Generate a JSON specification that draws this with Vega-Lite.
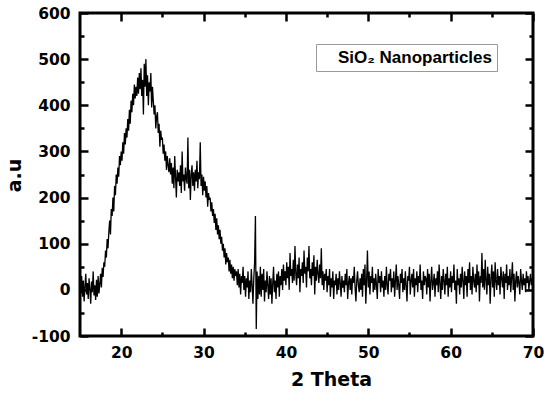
{
"$schema": "https://vega.github.io/schema/vega-lite/v6.json",
"width": 453, "height": 323,
"autosize": {"type": "none"},
"padding": {"left": 80, "top": 13, "right": 17, "bottom": 58},
"config": {
 "view": {"stroke": "black", "strokeWidth": 3},
 "axis": {"domain": false, "tickColor": "black", "tickWidth": 2.5, "grid": false, "ticks": true,
  "labelFont": "DejaVu Sans", "labelFontWeight": "bold", "labelFontSize": 15.5, "labelColor": "black",
  "titleFont": "DejaVu Sans", "titleFontWeight": "bold", "titleFontSize": 19, "titleColor": "black"}
},
"data": {"values": [
{"x":15.0,"y":12},{"x":15.1,"y":-8},{"x":15.2,"y":30},{"x":15.3,"y":-15},{"x":15.4,"y":20},{"x":15.5,"y":-25},{"x":15.6,"y":8},{"x":15.7,"y":35},{"x":15.8,"y":-10},{"x":15.9,"y":15},
{"x":16.0,"y":-20},{"x":16.1,"y":25},{"x":16.2,"y":2},{"x":16.3,"y":-30},{"x":16.4,"y":18},{"x":16.5,"y":-5},{"x":16.6,"y":40},{"x":16.7,"y":-12},{"x":16.8,"y":10},{"x":16.9,"y":-22},
{"x":17.0,"y":22},{"x":17.1,"y":-15},{"x":17.2,"y":30},{"x":17.3,"y":-8},{"x":17.4,"y":12},{"x":17.5,"y":35},{"x":17.6,"y":5},{"x":17.7,"y":48},{"x":17.8,"y":28},{"x":17.9,"y":60},
{"x":18.0,"y":50},{"x":18.1,"y":85},{"x":18.2,"y":70},{"x":18.3,"y":110},{"x":18.4,"y":90},{"x":18.5,"y":125},{"x":18.6,"y":150},{"x":18.7,"y":120},{"x":18.8,"y":175},{"x":18.9,"y":160},
{"x":19.0,"y":200},{"x":19.1,"y":170},{"x":19.2,"y":225},{"x":19.3,"y":205},{"x":19.4,"y":250},{"x":19.5,"y":230},{"x":19.6,"y":265},{"x":19.7,"y":245},{"x":19.8,"y":290},{"x":19.9,"y":270},
{"x":20.0,"y":300},{"x":20.1,"y":280},{"x":20.2,"y":320},{"x":20.3,"y":295},{"x":20.4,"y":340},{"x":20.5,"y":315},{"x":20.6,"y":350},{"x":20.7,"y":330},{"x":20.8,"y":370},{"x":20.9,"y":345},
{"x":21.0,"y":390},{"x":21.1,"y":360},{"x":21.2,"y":410},{"x":21.3,"y":385},{"x":21.4,"y":425},{"x":21.5,"y":400},{"x":21.6,"y":445},{"x":21.7,"y":415},{"x":21.8,"y":440},{"x":21.9,"y":420},
{"x":22.0,"y":460},{"x":22.1,"y":425},{"x":22.2,"y":470},{"x":22.3,"y":435},{"x":22.4,"y":480},{"x":22.5,"y":420},{"x":22.6,"y":455},{"x":22.7,"y":380},{"x":22.8,"y":490},{"x":22.9,"y":440},
{"x":23.0,"y":500},{"x":23.1,"y":420},{"x":23.2,"y":465},{"x":23.3,"y":400},{"x":23.4,"y":450},{"x":23.5,"y":430},{"x":23.6,"y":470},{"x":23.7,"y":395},{"x":23.8,"y":440},{"x":23.9,"y":410},
{"x":24.0,"y":380},{"x":24.1,"y":400},{"x":24.2,"y":350},{"x":24.3,"y":375},{"x":24.4,"y":385},{"x":24.5,"y":340},{"x":24.6,"y":360},{"x":24.7,"y":310},{"x":24.8,"y":345},{"x":24.9,"y":325},
{"x":25.0,"y":330},{"x":25.1,"y":295},{"x":25.2,"y":315},{"x":25.3,"y":280},{"x":25.4,"y":300},{"x":25.5,"y":260},{"x":25.6,"y":290},{"x":25.7,"y":270},{"x":25.8,"y":255},{"x":25.9,"y":285},
{"x":26.0,"y":250},{"x":26.1,"y":275},{"x":26.2,"y":230},{"x":26.3,"y":265},{"x":26.4,"y":220},{"x":26.5,"y":290},{"x":26.6,"y":245},{"x":26.7,"y":200},{"x":26.8,"y":260},{"x":26.9,"y":235},
{"x":27.0,"y":255},{"x":27.1,"y":225},{"x":27.2,"y":270},{"x":27.3,"y":210},{"x":27.4,"y":300},{"x":27.5,"y":235},{"x":27.6,"y":250},{"x":27.7,"y":215},{"x":27.8,"y":265},{"x":27.9,"y":240},
{"x":28.0,"y":230},{"x":28.1,"y":330},{"x":28.2,"y":220},{"x":28.3,"y":260},{"x":28.4,"y":195},{"x":28.5,"y":250},{"x":28.6,"y":270},{"x":28.7,"y":225},{"x":28.8,"y":255},{"x":28.9,"y":215},
{"x":29.0,"y":260},{"x":29.1,"y":235},{"x":29.2,"y":280},{"x":29.3,"y":220},{"x":29.4,"y":255},{"x":29.5,"y":240},{"x":29.6,"y":320},{"x":29.7,"y":225},{"x":29.8,"y":250},{"x":29.9,"y":205},
{"x":30.0,"y":245},{"x":30.1,"y":215},{"x":30.2,"y":235},{"x":30.3,"y":200},{"x":30.4,"y":225},{"x":30.5,"y":180},{"x":30.6,"y":210},{"x":30.7,"y":195},{"x":30.8,"y":200},{"x":30.9,"y":170},
{"x":31.0,"y":190},{"x":31.1,"y":160},{"x":31.2,"y":175},{"x":31.3,"y":145},{"x":31.4,"y":165},{"x":31.5,"y":130},{"x":31.6,"y":155},{"x":31.7,"y":120},{"x":31.8,"y":140},{"x":31.9,"y":110},
{"x":32.0,"y":130},{"x":32.1,"y":100},{"x":32.2,"y":115},{"x":32.3,"y":85},{"x":32.4,"y":100},{"x":32.5,"y":70},{"x":32.6,"y":90},{"x":32.7,"y":55},{"x":32.8,"y":80},{"x":32.9,"y":60},
{"x":33.0,"y":70},{"x":33.1,"y":40},{"x":33.2,"y":65},{"x":33.3,"y":35},{"x":33.4,"y":55},{"x":33.5,"y":25},{"x":33.6,"y":50},{"x":33.7,"y":20},{"x":33.8,"y":45},{"x":33.9,"y":30},
{"x":34.0,"y":40},{"x":34.1,"y":10},{"x":34.2,"y":45},{"x":34.3,"y":5},{"x":34.4,"y":35},{"x":34.5,"y":-10},{"x":34.6,"y":30},{"x":34.7,"y":15},{"x":34.8,"y":50},{"x":34.9,"y":0},
{"x":35.0,"y":30},{"x":35.1,"y":-15},{"x":35.2,"y":25},{"x":35.3,"y":5},{"x":35.4,"y":40},{"x":35.5,"y":-20},{"x":35.6,"y":20},{"x":35.7,"y":-5},{"x":35.8,"y":45},{"x":35.9,"y":10},
{"x":36.0,"y":-30},{"x":36.1,"y":25},{"x":36.2,"y":60},{"x":36.3,"y":160},{"x":36.4,"y":-85},{"x":36.5,"y":40},{"x":36.6,"y":-20},{"x":36.7,"y":30},{"x":36.8,"y":-10},{"x":36.9,"y":50},
{"x":37.0,"y":-15},{"x":37.1,"y":35},{"x":37.2,"y":0},{"x":37.3,"y":45},{"x":37.4,"y":-25},{"x":37.5,"y":20},{"x":37.6,"y":-5},{"x":37.7,"y":40},{"x":37.8,"y":10},{"x":37.9,"y":-20},
{"x":38.0,"y":30},{"x":38.1,"y":-10},{"x":38.2,"y":25},{"x":38.3,"y":-30},{"x":38.4,"y":15},{"x":38.5,"y":50},{"x":38.6,"y":-5},{"x":38.7,"y":20},{"x":38.8,"y":-20},{"x":38.9,"y":35},
{"x":39.0,"y":5},{"x":39.1,"y":40},{"x":39.2,"y":-15},{"x":39.3,"y":30},{"x":39.4,"y":10},{"x":39.5,"y":45},{"x":39.6,"y":0},{"x":39.7,"y":55},{"x":39.8,"y":20},{"x":39.9,"y":40},
{"x":40.0,"y":10},{"x":40.1,"y":60},{"x":40.2,"y":25},{"x":40.3,"y":50},{"x":40.4,"y":0},{"x":40.5,"y":80},{"x":40.6,"y":30},{"x":40.7,"y":45},{"x":40.8,"y":15},{"x":40.9,"y":65},
{"x":41.0,"y":20},{"x":41.1,"y":95},{"x":41.2,"y":35},{"x":41.3,"y":10},{"x":41.4,"y":55},{"x":41.5,"y":25},{"x":41.6,"y":70},{"x":41.7,"y":-5},{"x":41.8,"y":45},{"x":41.9,"y":30},
{"x":42.0,"y":60},{"x":42.1,"y":15},{"x":42.2,"y":85},{"x":42.3,"y":35},{"x":42.4,"y":50},{"x":42.5,"y":5},{"x":42.6,"y":70},{"x":42.7,"y":40},{"x":42.8,"y":95},{"x":42.9,"y":25},
{"x":43.0,"y":45},{"x":43.1,"y":10},{"x":43.2,"y":60},{"x":43.3,"y":30},{"x":43.4,"y":75},{"x":43.5,"y":-10},{"x":43.6,"y":50},{"x":43.7,"y":20},{"x":43.8,"y":65},{"x":43.9,"y":35},
{"x":44.0,"y":15},{"x":44.1,"y":55},{"x":44.2,"y":25},{"x":44.3,"y":90},{"x":44.4,"y":10},{"x":44.5,"y":40},{"x":44.6,"y":0},{"x":44.7,"y":35},{"x":44.8,"y":20},{"x":44.9,"y":45},
{"x":45.0,"y":-5},{"x":45.1,"y":30},{"x":45.2,"y":10},{"x":45.3,"y":45},{"x":45.4,"y":-15},{"x":45.5,"y":25},{"x":45.6,"y":5},{"x":45.7,"y":40},{"x":45.8,"y":-20},{"x":45.9,"y":20},
{"x":46.0,"y":10},{"x":46.1,"y":35},{"x":46.2,"y":-10},{"x":46.3,"y":25},{"x":46.4,"y":0},{"x":46.5,"y":40},{"x":46.6,"y":15},{"x":46.7,"y":-15},{"x":46.8,"y":30},{"x":46.9,"y":5},
{"x":47.0,"y":20},{"x":47.1,"y":-5},{"x":47.2,"y":35},{"x":47.3,"y":10},{"x":47.4,"y":45},{"x":47.5,"y":-20},{"x":47.6,"y":15},{"x":47.7,"y":30},{"x":47.8,"y":0},{"x":47.9,"y":25},
{"x":48.0,"y":-10},{"x":48.1,"y":30},{"x":48.2,"y":15},{"x":48.3,"y":50},{"x":48.4,"y":5},{"x":48.5,"y":-25},{"x":48.6,"y":20},{"x":48.7,"y":40},{"x":48.8,"y":10},{"x":48.9,"y":-5},
{"x":49.0,"y":25},{"x":49.1,"y":0},{"x":49.2,"y":35},{"x":49.3,"y":-15},{"x":49.4,"y":45},{"x":49.5,"y":10},{"x":49.6,"y":55},{"x":49.7,"y":-30},{"x":49.8,"y":20},{"x":49.9,"y":85},
{"x":50.0,"y":5},{"x":50.1,"y":40},{"x":50.2,"y":-10},{"x":50.3,"y":30},{"x":50.4,"y":15},{"x":50.5,"y":50},{"x":50.6,"y":-5},{"x":50.7,"y":25},{"x":50.8,"y":0},{"x":50.9,"y":35},
{"x":51.0,"y":10},{"x":51.1,"y":-20},{"x":51.2,"y":45},{"x":51.3,"y":15},{"x":51.4,"y":30},{"x":51.5,"y":-5},{"x":51.6,"y":40},{"x":51.7,"y":5},{"x":51.8,"y":20},{"x":51.9,"y":-15},
{"x":52.0,"y":30},{"x":52.1,"y":0},{"x":52.2,"y":50},{"x":52.3,"y":10},{"x":52.4,"y":-10},{"x":52.5,"y":35},{"x":52.6,"y":20},{"x":52.7,"y":45},{"x":52.8,"y":-5},{"x":52.9,"y":25},
{"x":53.0,"y":5},{"x":53.1,"y":40},{"x":53.2,"y":-15},{"x":53.3,"y":20},{"x":53.4,"y":55},{"x":53.5,"y":0},{"x":53.6,"y":30},{"x":53.7,"y":10},{"x":53.8,"y":-20},{"x":53.9,"y":35},
{"x":54.0,"y":15},{"x":54.1,"y":45},{"x":54.2,"y":-5},{"x":54.3,"y":25},{"x":54.4,"y":0},{"x":54.5,"y":40},{"x":54.6,"y":10},{"x":54.7,"y":-25},{"x":54.8,"y":30},{"x":54.9,"y":20},
{"x":55.0,"y":50},{"x":55.1,"y":-10},{"x":55.2,"y":20},{"x":55.3,"y":35},{"x":55.4,"y":5},{"x":55.5,"y":45},{"x":55.6,"y":-15},{"x":55.7,"y":25},{"x":55.8,"y":10},{"x":55.9,"y":40},
{"x":56.0,"y":-5},{"x":56.1,"y":30},{"x":56.2,"y":15},{"x":56.3,"y":55},{"x":56.4,"y":0},{"x":56.5,"y":20},{"x":56.6,"y":-20},{"x":56.7,"y":40},{"x":56.8,"y":10},{"x":56.9,"y":30},
{"x":57.0,"y":25},{"x":57.1,"y":-10},{"x":57.2,"y":45},{"x":57.3,"y":5},{"x":57.4,"y":35},{"x":57.5,"y":-25},{"x":57.6,"y":20},{"x":57.7,"y":50},{"x":57.8,"y":0},{"x":57.9,"y":15},
{"x":58.0,"y":35},{"x":58.1,"y":-15},{"x":58.2,"y":25},{"x":58.3,"y":10},{"x":58.4,"y":40},{"x":58.5,"y":-5},{"x":58.6,"y":55},{"x":58.7,"y":15},{"x":58.8,"y":-20},{"x":58.9,"y":30},
{"x":59.0,"y":0},{"x":59.1,"y":45},{"x":59.2,"y":20},{"x":59.3,"y":-10},{"x":59.4,"y":35},{"x":59.5,"y":10},{"x":59.6,"y":50},{"x":59.7,"y":-15},{"x":59.8,"y":25},{"x":59.9,"y":5},
{"x":60.0,"y":40},{"x":60.1,"y":-5},{"x":60.2,"y":30},{"x":60.3,"y":15},{"x":60.4,"y":55},{"x":60.5,"y":0},{"x":60.6,"y":20},{"x":60.7,"y":-30},{"x":60.8,"y":45},{"x":60.9,"y":10},
{"x":61.0,"y":25},{"x":61.1,"y":-10},{"x":61.2,"y":35},{"x":61.3,"y":5},{"x":61.4,"y":50},{"x":61.5,"y":20},{"x":61.6,"y":-20},{"x":61.7,"y":40},{"x":61.8,"y":10},{"x":61.9,"y":30},
{"x":62.0,"y":-15},{"x":62.1,"y":45},{"x":62.2,"y":15},{"x":62.3,"y":60},{"x":62.4,"y":0},{"x":62.5,"y":30},{"x":62.6,"y":-10},{"x":62.7,"y":50},{"x":62.8,"y":20},{"x":62.9,"y":5},
{"x":63.0,"y":35},{"x":63.1,"y":-5},{"x":63.2,"y":55},{"x":63.3,"y":10},{"x":63.4,"y":40},{"x":63.5,"y":-25},{"x":63.6,"y":30},{"x":63.7,"y":15},{"x":63.8,"y":80},{"x":63.9,"y":5},
{"x":64.0,"y":45},{"x":64.1,"y":0},{"x":64.2,"y":65},{"x":64.3,"y":20},{"x":64.4,"y":-10},{"x":64.5,"y":50},{"x":64.6,"y":10},{"x":64.7,"y":35},{"x":64.8,"y":-30},{"x":64.9,"y":25},
{"x":65.0,"y":55},{"x":65.1,"y":5},{"x":65.2,"y":40},{"x":65.3,"y":-15},{"x":65.4,"y":60},{"x":65.5,"y":20},{"x":65.6,"y":0},{"x":65.7,"y":45},{"x":65.8,"y":10},{"x":65.9,"y":30},
{"x":66.0,"y":-10},{"x":66.1,"y":50},{"x":66.2,"y":25},{"x":66.3,"y":5},{"x":66.4,"y":40},{"x":66.5,"y":-20},{"x":66.6,"y":35},{"x":66.7,"y":15},{"x":66.8,"y":55},{"x":66.9,"y":0},
{"x":67.0,"y":30},{"x":67.1,"y":10},{"x":67.2,"y":45},{"x":67.3,"y":-5},{"x":67.4,"y":25},{"x":67.5,"y":60},{"x":67.6,"y":0},{"x":67.7,"y":35},{"x":67.8,"y":-25},{"x":67.9,"y":20},
{"x":68.0,"y":40},{"x":68.1,"y":5},{"x":68.2,"y":30},{"x":68.3,"y":15},{"x":68.4,"y":-10},{"x":68.5,"y":45},{"x":68.6,"y":20},{"x":68.7,"y":0},{"x":68.8,"y":35},{"x":68.9,"y":10},
{"x":69.0,"y":25},{"x":69.1,"y":-5},{"x":69.2,"y":40},{"x":69.3,"y":15},{"x":69.4,"y":30},{"x":69.5,"y":0},{"x":69.6,"y":20},{"x":69.7,"y":35},{"x":69.8,"y":10},{"x":69.9,"y":25},
{"x":70.0,"y":15}
]},
"layer": [
 {"mark": {"type": "line", "strokeWidth": 1.3},
  "encoding": {
   "x": {"field": "x", "type": "quantitative", "scale": {"domain": [15, 70], "nice": false, "zero": false},
    "axis": {"orient": "bottom", "title": "2 Theta", "values": [20,30,40,50,60,70], "offset": -8, "tickSize": 8,
     "labelFlush": false, "labelOverlap": false, "labelPadding": 9, "titlePadding": 10, "titleX": 251}},
   "y": {"field": "y", "type": "quantitative", "scale": {"domain": [-100, 600], "nice": false, "zero": false},
    "axis": {"orient": "left", "title": "a.u", "values": [-100,0,100,200,300,400,500,600], "offset": -8, "tickSize": 8,
     "labelExpr": "replace(datum.label, '−', '-')",
     "labelOverlap": false, "labelPadding": 10, "titleX": -68, "titleY": 162, "titleBaseline": "alphabetic", "titleAlign": "center", "titleAngle": -90}},
   "color": {"datum": "SiO₂ Nanoparticles", "type": "nominal", "scale": {"range": ["black"]},
    "legend": {"title": null, "orient": "none", "legendX": 236, "legendY": 31, "strokeColor": "#999999",
     "fillColor": "white", "padding": 5, "symbolSize": 0, "symbolOpacity": 0, "symbolType": "circle", "symbolStrokeWidth": 0,
     "symbolStrokeColor": "transparent", "symbolFillColor": "transparent", "labelOffset": 0,
     "labelFont": "Liberation Sans", "labelFontWeight": "bold", "labelFontSize": 17, "labelColor": "black", "labelLimit": 400}}
  }},
 {"mark": {"type": "line", "opacity": 0},
  "encoding": {
   "x": {"field": "x", "type": "quantitative", "scale": {"domain": [15, 70], "nice": false, "zero": false},
    "axis": {"orient": "top", "title": null, "labels": false, "values": [20,30,40,50,60,70], "offset": -8, "tickSize": 8}},
   "y": {"field": "y", "type": "quantitative", "scale": {"domain": [-100, 600], "nice": false, "zero": false},
    "axis": {"orient": "right", "title": null, "labels": false, "values": [-100,0,100,200,300,400,500,600], "offset": -8, "tickSize": 8}}
  }},
 {"mark": {"type": "line", "opacity": 0},
  "encoding": {
   "x": {"field": "x", "type": "quantitative", "scale": {"domain": [15, 70], "nice": false, "zero": false},
    "axis": {"orient": "bottom", "title": null, "labels": false, "values": [25,35,45,55,65], "offset": -4, "tickSize": 4}},
   "y": {"field": "y", "type": "quantitative", "scale": {"domain": [-100, 600], "nice": false, "zero": false},
    "axis": {"orient": "left", "title": null, "labels": false, "values": [-50,50,150,250,350,450,550], "offset": -4, "tickSize": 4}}
  }},
 {"mark": {"type": "line", "opacity": 0},
  "encoding": {
   "x": {"field": "x", "type": "quantitative", "scale": {"domain": [15, 70], "nice": false, "zero": false},
    "axis": {"orient": "top", "title": null, "labels": false, "values": [25,35,45,55,65], "offset": -4, "tickSize": 4}},
   "y": {"field": "y", "type": "quantitative", "scale": {"domain": [-100, 600], "nice": false, "zero": false},
    "axis": {"orient": "right", "title": null, "labels": false, "values": [-50,50,150,250,350,450,550], "offset": -4, "tickSize": 4}}
  }}
],
"resolve": {"axis": {"x": "independent", "y": "independent"}}
}
